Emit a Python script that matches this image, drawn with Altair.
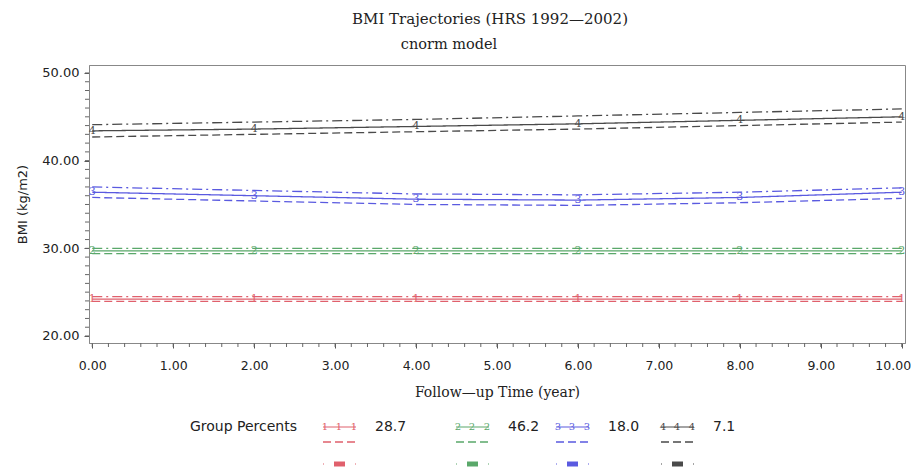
import altair as alt
import pandas as pd

# ---- data ----
time = [0, 2, 4, 6, 8, 10]
groups = ["1", "2", "3", "4"]
percents = ["28.7", "46.2", "18.0", "7.1"]
colors = ["#e0606c", "#5aa86a", "#5a5ae0", "#4a4a4a"]

mean = {
    "1": [24.2, 24.2, 24.2, 24.2, 24.2, 24.2],
    "2": [29.7, 29.7, 29.7, 29.7, 29.7, 29.7],
    "3": [36.4, 36.0, 35.6, 35.5, 35.8, 36.4],
    "4": [43.4, 43.6, 43.9, 44.2, 44.6, 45.0],
}
lower = {
    "1": [23.95, 23.95, 23.95, 23.95, 23.95, 23.95],
    "2": [29.4, 29.4, 29.4, 29.4, 29.4, 29.4],
    "3": [35.8, 35.4, 35.0, 34.9, 35.2, 35.7],
    "4": [42.7, 43.0, 43.3, 43.6, 44.0, 44.4],
}
upper = {
    "1": [24.5, 24.5, 24.5, 24.5, 24.5, 24.5],
    "2": [30.0, 30.0, 30.0, 30.0, 30.0, 30.0],
    "3": [37.0, 36.6, 36.2, 36.1, 36.4, 36.9],
    "4": [44.1, 44.4, 44.7, 45.1, 45.5, 45.9],
}

x_ticks = [0, 1, 2, 3, 4, 5, 6, 7, 8, 9, 10]
y_ticks = [20, 30, 40, 50]
x_minor = [i / 5 for i in range(51)]
y_minor = list(range(20, 51))

rows = []
for g in groups:
    for kind, src in (("mean", mean), ("lower", lower), ("upper", upper)):
        for t, v in zip(time, src[g]):
            rows.append({"time": t, "bmi": v, "group": g, "kind": kind})
df = pd.DataFrame(rows)
mean_df = df[df.kind == "mean"]

xscale = alt.Scale(domain=[-0.04, 10.04], nice=False, zero=False)
yscale = alt.Scale(domain=[19.2, 50.91], nice=False, zero=False)
cscale = alt.Scale(domain=groups, range=colors)
dscale = alt.Scale(domain=["mean", "lower", "upper"],
                   range=[[1, 0], [8, 4], [10, 4, 2, 4]])

FONT = "DejaVu Sans"
SERIF = "DejaVu Serif"

xaxis = alt.Axis(values=x_ticks, format=".2f", title="Follow\u2014up Time (year)",
                 titleFont=SERIF, titleFontSize=14, titleFontWeight="normal",
                 titleColor="#222", titlePadding=14,
                 labelFont=FONT, labelFontSize=12.5, labelColor="#222",
                 labelPadding=11, tickSize=5, tickColor="#555", domainColor="#888",
                 labelOffset={"condition": {"test": "datum.value == 10", "value": -9}, "value": 0},
                 grid=False)
yaxis = alt.Axis(values=y_ticks, format=".2f", title="BMI (kg/m2)",
                 titleFont=FONT, titleFontSize=13, titleFontWeight="normal",
                 titleColor="#222", titlePadding=12,
                 labelFont=FONT, labelFontSize=13, labelColor="#222",
                 labelPadding=5, tickSize=5, tickColor="#555", domainColor="#888",
                 grid=False)

X = lambda: alt.X("time:Q", scale=xscale, axis=xaxis)
Y = lambda: alt.Y("bmi:Q", scale=yscale, axis=yaxis)
C = lambda: alt.Color("group:N", scale=cscale, legend=None)

# minor ticks
mx = alt.Chart(pd.DataFrame({"time": x_minor})).mark_rule(color="#666", strokeWidth=1).encode(
    x=X(), y=alt.value(278), y2=alt.value(282))
my = alt.Chart(pd.DataFrame({"bmi": y_minor})).mark_rule(color="#666", strokeWidth=1).encode(
    y=Y(), x=alt.value(0), x2=alt.value(-4))

lines = alt.Chart(df).mark_line(strokeWidth=1.3).encode(
    x=X(), y=Y(), color=C(),
    strokeDash=alt.StrokeDash("kind:N", scale=dscale, legend=None),
    detail="kind:N",
)

digits = alt.Chart(mean_df).mark_text(font=SERIF, fontSize=11).encode(
    x=X(), y=Y(), text="group:N", color=C(),
)

# custom legend (pixel layout)
leg_x = [234, 367, 467, 572]
row1, row2, row3 = 362, 377, 399
legend_layers = []
for g, p, c, lx in zip(groups, percents, colors, leg_x):
    one = pd.DataFrame({"g": [g], "p": [p]})
    base = alt.Chart(one)
    legend_layers.append(base.mark_rule(color=c, strokeWidth=1.2).encode(
        x=alt.value(lx), x2=alt.value(lx + 33), y=alt.value(row1)))
    for off in (2, 16, 31):
        legend_layers.append(base.mark_text(font=SERIF, fontSize=10, color=c).encode(
            x=alt.value(lx + off), y=alt.value(row1), text="g:N"))
    legend_layers.append(base.mark_text(align="left", font=FONT, fontSize=14, color="#222").encode(
        x=alt.value(lx + 52), y=alt.value(row1), text="p:N"))
    legend_layers.append(base.mark_rule(color=c, strokeWidth=1.3, strokeDash=[8, 4]).encode(
        x=alt.value(lx), x2=alt.value(lx + 33), y=alt.value(row2)))
    legend_layers.append(base.mark_rule(color=c, strokeWidth=5).encode(
        x=alt.value(lx + 11), x2=alt.value(lx + 22), y=alt.value(row3)))
    legend_layers.append(base.mark_rule(color=c, strokeWidth=1).encode(
        x=alt.value(lx), x2=alt.value(lx + 1), y=alt.value(row3)))
    legend_layers.append(base.mark_rule(color=c, strokeWidth=1).encode(
        x=alt.value(lx + 32), x2=alt.value(lx + 33), y=alt.value(row3)))

leg_title = alt.Chart(pd.DataFrame({"t": ["Group   Percents"]})).mark_text(
    align="right", font=FONT, fontSize=14, color="#222").encode(
    x=alt.value(208), y=alt.value(row1), text="t:N")
title = alt.Chart(pd.DataFrame({"t": ["BMI Trajectories (HRS 1992\u20142002)"]})).mark_text(
    font=SERIF, fontSize=15, color="#222").encode(
    x=alt.value(401), y=alt.value(-46), text="t:N")
subtitle = alt.Chart(pd.DataFrame({"t": ["cnorm model"]})).mark_text(
    font=SERIF, fontSize=14.5, color="#222").encode(
    x=alt.value(360), y=alt.value(-20), text="t:N")

chart = alt.layer(
    mx, my, lines, digits, leg_title, *legend_layers, title, subtitle
).properties(
    width=816, height=278,
    autosize=alt.AutoSizeParams(type="none"),
    padding={"left": 81, "top": 57, "right": 6, "bottom": 124},
).configure_view(stroke="#888", strokeWidth=1)

chart.save("out.html", embed_options={"renderer": "svg", "actions": False})
